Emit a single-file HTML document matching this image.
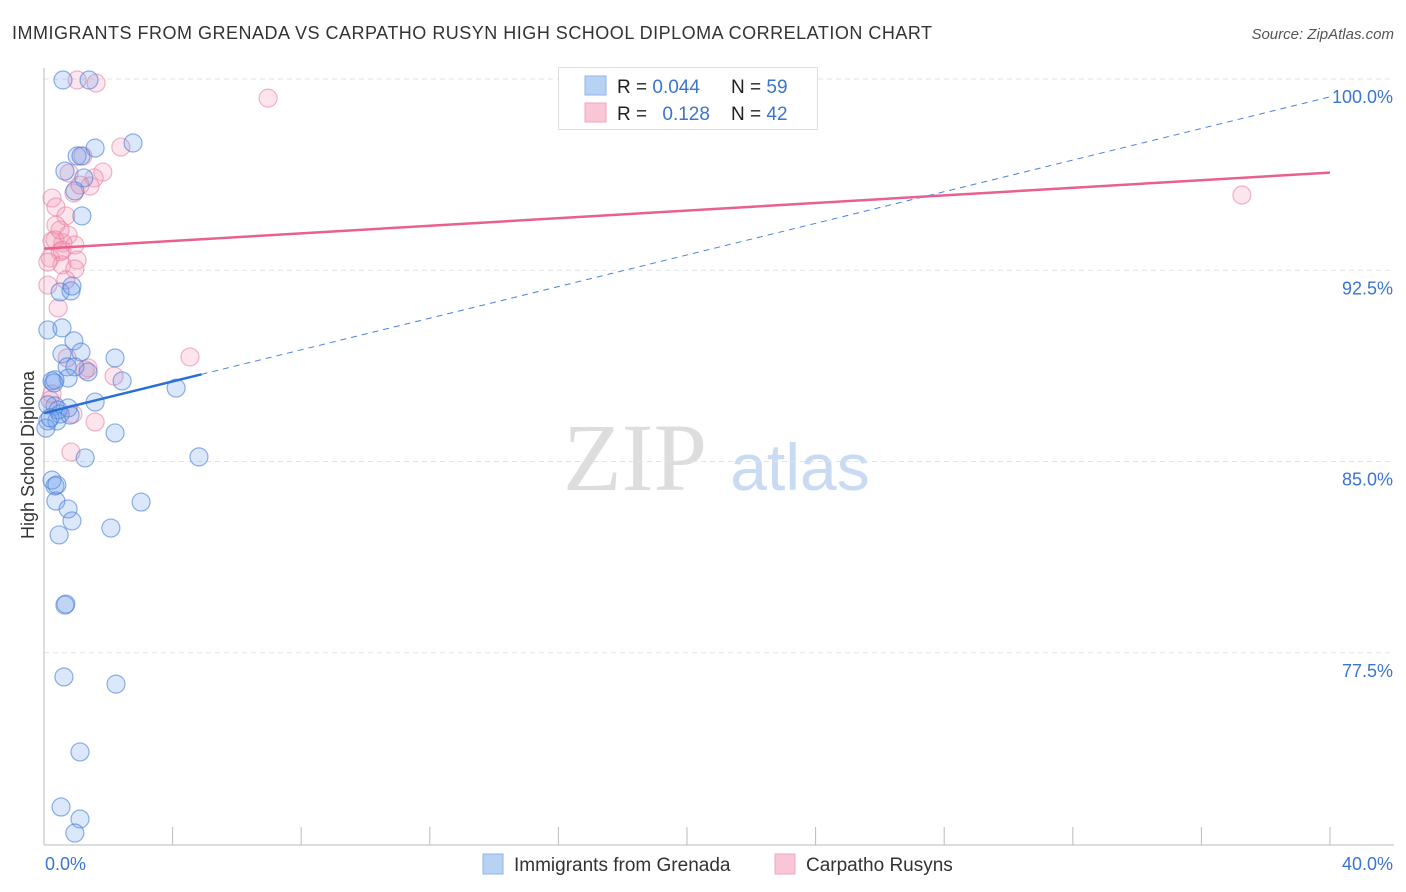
<!DOCTYPE html>
<html><head><meta charset="utf-8"><style>
body{margin:0;background:#fff;font-family:"Liberation Sans",sans-serif;}
#wrap{position:relative;width:1406px;height:892px;overflow:hidden;}
</style></head><body>
<div id="wrap">
<svg id="svg" width="1406" height="892" xmlns="http://www.w3.org/2000/svg">
<text x="12" y="39" font-size="18" fill="#333" textLength="920" lengthAdjust="spacing">IMMIGRANTS FROM GRENADA VS CARPATHO RUSYN HIGH SCHOOL DIPLOMA CORRELATION CHART</text>
<text x="1394" y="39" font-size="15" fill="#555" font-style="italic" text-anchor="end">Source: ZipAtlas.com</text>
<text x="34" y="455" font-size="18" fill="#333" text-anchor="middle" transform="rotate(-90 34 455)">High School Diploma</text>
<text x="635" y="490" font-size="96" fill="#ddd" font-family="Liberation Serif,serif" text-anchor="middle">ZIP</text>
<text x="800" y="490" font-size="66" fill="#c9dbf3" text-anchor="middle">atlas</text>
<g id="grid"></g><g id="axes"></g><g id="pts"></g><g id="trend"></g>
<g>
<rect x="558.5" y="67.5" width="259" height="62" fill="#fff" stroke="#ddd"/>
<rect x="585" y="76" width="21" height="19" fill="#b8d2f4" stroke="#8fb4e8"/>
<rect x="585" y="103" width="21" height="19" fill="#f9c6d5" stroke="#f0a5bc"/>
<text x="617" y="93" font-size="19" fill="#222">R = <tspan fill="#3a75d0">0.044</tspan></text>
<text x="731" y="93" font-size="19" fill="#222">N = <tspan fill="#3a75d0">59</tspan></text>
<text x="617" y="120" font-size="19" fill="#222">R = <tspan fill="#3a75d0" dx="10">0.128</tspan></text>
<text x="731" y="120" font-size="19" fill="#222">N = <tspan fill="#3a75d0">42</tspan></text>
</g>
<g>
<rect x="483" y="854" width="20" height="20" fill="#b8d2f4" stroke="#8fb4e8"/>
<text x="514" y="871" font-size="19" fill="#333">Immigrants from Grenada</text>
<rect x="775" y="854" width="20" height="20" fill="#f9c6d5" stroke="#f0a5bc"/>
<text x="806" y="871" font-size="19" fill="#333">Carpatho Rusyns</text>
</g>
</svg>
</div>
<script>
const yTicks=[100,92.5,85,77.5];
const xTickLabels=["0.0%","40.0%"];
const blueX=[0.59,1.40,2.77,1.59,1.03,1.15,0.65,1.24,0.96,1.18,0.50,0.84,0.87,0.12,0.56,0.93,0.56,1.15,2.21,0.72,0.96,1.37,0.75,2.43,0.25,0.34,4.11,1.59,0.34,0.12,0.75,0.50,0.40,0.12,0.06,2.21,1.28,4.82,0.25,0.34,0.37,3.02,0.75,0.87,2.08,0.47,0.68,0.62,2.24,1.12,0.53,1.12,0.96,0.31,0.44,0.19,0.65,0.40,0.81];
const blueY=[99.96,99.96,97.49,97.29,96.98,96.98,96.39,96.12,95.61,94.63,91.65,91.69,91.88,90.16,90.24,89.73,89.22,89.29,89.06,88.71,88.71,88.51,88.27,88.16,88.16,88.20,87.88,87.33,87.18,87.22,87.10,86.86,86.59,86.59,86.31,86.12,85.14,85.18,84.27,84.04,83.45,83.41,83.14,82.67,82.39,82.12,79.41,76.55,76.27,73.61,71.45,70.98,70.43,88.08,87.02,86.71,79.37,84.08,86.82];
const pinkX=[1.03,1.62,6.97,2.39,1.21,1.83,0.78,1.56,1.43,0.93,0.25,0.37,0.68,0.37,0.75,0.25,0.59,0.96,0.50,0.19,1.03,0.56,0.96,0.12,0.44,0.72,4.54,2.18,1.37,0.25,0.90,1.59,0.84,37.26,0.12,0.34,0.56,1.12,0.68,0.19,0.50,1.28];
const pinkY=[99.96,99.84,99.25,97.33,96.98,96.35,96.31,96.12,95.80,95.53,95.33,94.98,94.63,94.27,93.88,93.65,93.57,93.49,93.22,92.98,92.90,92.71,92.55,91.92,91.02,89.06,89.10,88.35,88.67,87.65,86.86,86.55,85.37,95.45,92.82,93.69,93.29,95.84,92.12,87.41,94.08,88.59];
const blueTrend=[86.9,99.3]; const blueSolidEnd=4.9;
const pinkTrend=[93.35,96.33];
const NS="http://www.w3.org/2000/svg";
const X0=44,X1=1330,Y100=79,PX=25.5;
function sx(v){return X0+(v/40)*(X1-X0);}
function sy(v){return Y100+(100-v)*PX;}
function mk(tag,attrs,parent){const e=document.createElementNS(NS,tag);for(const k in attrs)e.setAttribute(k,attrs[k]);document.getElementById(parent).appendChild(e);return e;}
yTicks.forEach(t=>{
 const l=mk('line',{x1:X0,x2:1394,y1:sy(t),y2:sy(t),stroke:'#e2e2e2','stroke-dasharray':'5,4'},'grid');
 
 
 const tx=mk('text',{x:1393,y:sy(t)+24,'font-size':18,fill:'#3a75d0','text-anchor':'end'},'grid');
 tx.textContent=t.toFixed(1)+'%';
 
 
});
mk('line',{x1:X0,x2:X0,y1:68,y2:845,stroke:'#bbb'},'axes');
mk('line',{x1:X0,x2:1394,y1:845,y2:845,stroke:'#bbb'},'axes');
for(let i=1;i<=10;i++){const t=mk('line',{x1:sx(i*4),x2:sx(i*4),y1:827,y2:845,stroke:'#bbb'},'axes');
 
 }
const xl0=mk('text',{x:45,y:870,'font-size':18,fill:'#3a75d0'},'axes');xl0.textContent=xTickLabels[0];


const xl1=mk('text',{x:1393,y:870,'font-size':18,fill:'#3a75d0','text-anchor':'end'},'axes');xl1.textContent=xTickLabels[1];


pinkX.forEach((v,i)=>{const c=mk('circle',{cx:sx(v),cy:sy(pinkY[i]),r:9,fill:'rgba(245,150,180,0.25)',stroke:'rgba(232,120,155,0.55)','stroke-width':1.2},'pts');
 
 });
blueX.forEach((v,i)=>{const c=mk('circle',{cx:sx(v),cy:sy(blueY[i]),r:9,fill:'rgba(110,160,235,0.25)',stroke:'rgba(70,125,215,0.6)','stroke-width':1.2},'pts');
 
 });
function ty(tr,x){return tr[0]+(tr[1]-tr[0])*x/40;}
const bd=mk('line',{x1:sx(blueSolidEnd),y1:sy(ty(blueTrend,blueSolidEnd)),x2:sx(40),y2:sy(ty(blueTrend,40)),stroke:'#4a84d8','stroke-width':1,'stroke-dasharray':'6,5'},'trend');


const bs=mk('line',{x1:sx(0),y1:sy(ty(blueTrend,0)),x2:sx(blueSolidEnd),y2:sy(ty(blueTrend,blueSolidEnd)),stroke:'#2a6fd6','stroke-width':2.5},'trend');


const ps=mk('line',{x1:sx(0),y1:sy(ty(pinkTrend,0)),x2:sx(40),y2:sy(ty(pinkTrend,40)),stroke:'#e8608f','stroke-width':2.5},'trend');


</script>
</body></html>
